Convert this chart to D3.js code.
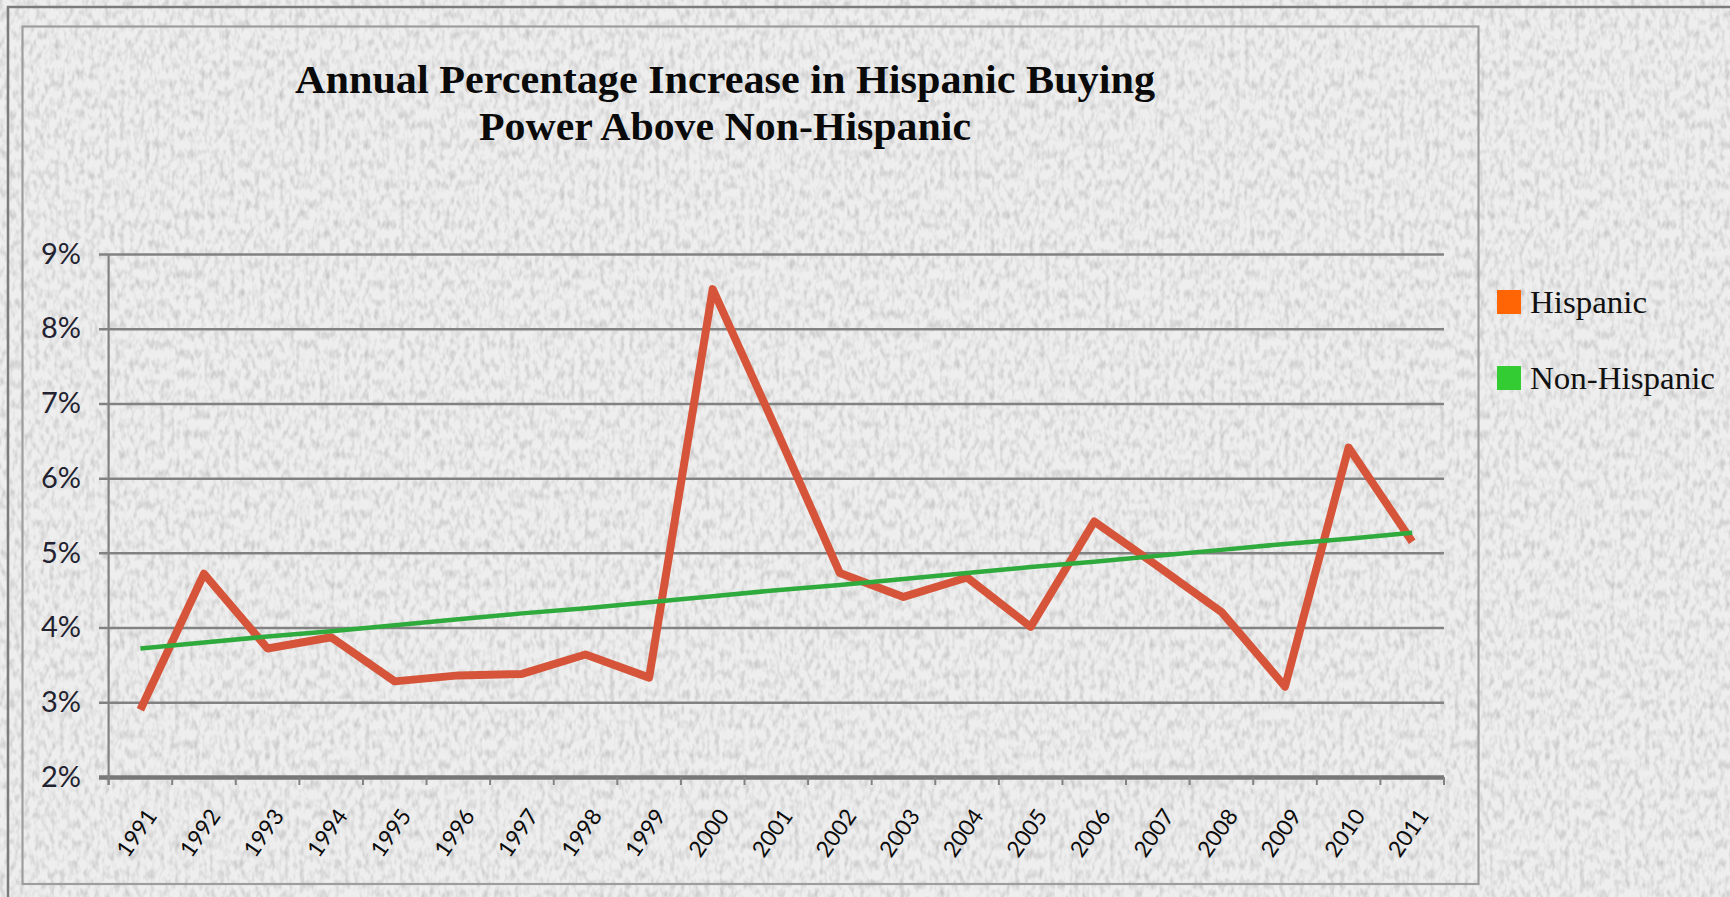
<!DOCTYPE html>
<html>
<head>
<meta charset="utf-8">
<script src="https://cdn.jsdelivr.net/npm/d3@7"></script>
<style>
  html, body { margin: 0; padding: 0; background: #e8e8e8; }
  svg { display: block; }
</style>
</head>
<body>
<svg id="chart" width="1730" height="897"></svg>
<script>
// ---- data ----
const years = ["1991","1992","1993","1994","1995","1996","1997","1998","1999","2000",
               "2001","2002","2003","2004","2005","2006","2007","2008","2009","2010","2011"];
const hispanic = [2.90, 4.72, 3.72, 3.87, 3.28, 3.36, 3.38, 3.64, 3.33, 8.53,
                  6.65, 4.73, 4.41, 4.67, 4.01, 5.42, 4.82, 4.21, 3.21, 6.41, 5.15];
const nonHispanic = [3.72, 3.80, 3.88, 3.95, 4.03, 4.11, 4.19, 4.26, 4.34, 4.42,
                     4.50, 4.57, 4.65, 4.73, 4.81, 4.88, 4.96, 5.04, 5.12, 5.19, 5.27];
const yTicks = [2, 3, 4, 5, 6, 7, 8, 9];
const titleLines = ["Annual Percentage Increase in Hispanic Buying", "Power Above Non-Hispanic"];
const seriesNames = ["Hispanic", "Non-Hispanic"];

// ---- layout ----
const svg = d3.select("#chart");
const W = 1730, H = 897;
const plot = { left: 108.6, right: 1444, top: 254, bottom: 777 };

// paper texture
const defs = svg.append("defs");
const f = defs.append("filter").attr("id", "paper")
  .attr("x", 0).attr("y", 0).attr("width", 1).attr("height", 1);
f.append("feTurbulence").attr("type", "fractalNoise")
  .attr("baseFrequency", "0.2 0.1").attr("numOctaves", 2).attr("seed", 11);
f.append("feColorMatrix").attr("type", "matrix")
  .attr("values", "0 0 0 0 0.58  0 0 0 0 0.58  0 0 0 0 0.58  2.1 0 0 0 -0.88");
svg.append("rect").attr("width", W).attr("height", H).attr("fill", "#eeeeee");
svg.append("rect").attr("width", W).attr("height", H).attr("fill", "#fff").attr("filter", "url(#paper)");

// frames
svg.append("rect").attr("x", 8).attr("y", 7).attr("width", 1800).attr("height", 1000)
  .attr("fill", "none").attr("stroke", "#7c7c7c").attr("stroke-width", 2.5);
svg.append("rect").attr("x", 22.5).attr("y", 26.5).attr("width", 1456).attr("height", 857.5)
  .attr("fill", "none").attr("stroke", "#9e9e9e").attr("stroke-width", 2.2);

// scales
const x = d3.scaleBand().domain(years).range([plot.left, plot.right]).padding(0);
const y = d3.scaleLinear().domain([2, 9]).range([plot.bottom, plot.top]);
const cx = d => x(d) + x.bandwidth() / 2;

// gridlines + y labels
const yAxis = d3.axisLeft(y).tickValues(yTicks)
  .tickSize(-(plot.right - 99)).tickPadding(18)
  .tickFormat(d => d + "%");
const gy = svg.append("g").attr("transform", "translate(99,0)").call(yAxis);
gy.select(".domain").remove();
gy.selectAll(".tick line").attr("stroke", "#828282").attr("stroke-width", 2.5)
  .filter(d => d === 2).attr("stroke", "#777").attr("stroke-width", 4.5);
gy.selectAll(".tick text").attr("font-family", "Lato, 'Open Sans', sans-serif")
  .attr("font-size", 29).attr("fill", "#222230");

// vertical axis line
svg.append("line").attr("x1", plot.left).attr("x2", plot.left)
  .attr("y1", y(9)).attr("y2", y(2) + 8)
  .attr("stroke", "#828282").attr("stroke-width", 2.2);

// x ticks at category boundaries
const boundaries = years.map(d => x(d)).concat([x(years[years.length - 1]) + x.bandwidth()]);
svg.append("g").selectAll("line").data(boundaries).join("line")
  .attr("x1", d => d).attr("x2", d => d)
  .attr("y1", y(2)).attr("y2", y(2) + 8)
  .attr("stroke", "#828282").attr("stroke-width", 2);

// x labels
svg.append("g").selectAll("text").data(years).join("text")
  .attr("transform", d => `translate(${cx(d) + 17.5},${y(2) + 39}) rotate(-55)`)
  .attr("text-anchor", "end")
  .attr("font-family", "Lato, 'Open Sans', sans-serif")
  .attr("font-size", 22.5).attr("fill", "#0c0c0c")
  .text(d => d);

// lines
const line = d3.line().x((d, i) => cx(years[i])).y(d => y(d));
svg.append("path").datum(hispanic).attr("d", line)
  .attr("fill", "none").attr("stroke", "#d6553a").attr("stroke-width", 8)
  .attr("stroke-linejoin", "round").attr("stroke-linecap", "butt");
svg.append("path").datum(nonHispanic).attr("d", line)
  .attr("fill", "none").attr("stroke", "#2fab3e").attr("stroke-width", 4.5)
  .attr("stroke-linecap", "butt");

// title
const titleX = 725;
const tl = svg.append("g").attr("font-family", "'Liberation Serif', 'DejaVu Serif', serif")
  .attr("font-weight", "bold").attr("font-size", 40).attr("fill", "#0a0a0a")
  .attr("text-anchor", "middle");
tl.append("text").attr("x", titleX).attr("y", 93).attr("textLength", 860)
  .attr("lengthAdjust", "spacingAndGlyphs").text(titleLines[0]);
tl.append("text").attr("x", titleX).attr("y", 140).attr("textLength", 492)
  .attr("lengthAdjust", "spacingAndGlyphs").text(titleLines[1]);

// legend
const legendColors = ["#ff6405", "#33cc33"];
const legendY = [290, 366];
const legendW = [117, 185];
const lg = svg.append("g");
seriesNames.forEach((name, i) => {
  lg.append("rect").attr("x", 1497).attr("y", legendY[i]).attr("width", 24).attr("height", 24)
    .attr("fill", legendColors[i]);
  lg.append("text").attr("x", 1530).attr("y", legendY[i] + 23)
    .attr("font-family", "'Liberation Serif', 'DejaVu Serif', serif")
    .attr("font-size", 31).attr("fill", "#111")
    .attr("textLength", legendW[i]).attr("lengthAdjust", "spacingAndGlyphs")
    .text(name);
});
</script>
</body>
</html>
